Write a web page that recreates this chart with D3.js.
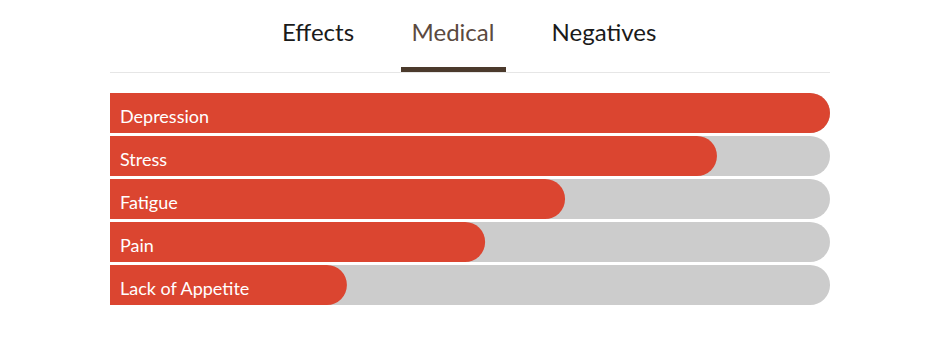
<!DOCTYPE html>
<html>
<head>
<meta charset="utf-8">
<script src="https://cdn.jsdelivr.net/npm/d3@7"></script>
<style>
  body { margin: 0; background: #fff; }
  svg { display: block; }
</style>
</head>
<body>
<div id="app"></div>
<script>
const tabs = ["Effects", "Medical", "Negatives"]
const activeTab = "Medical"
const conditions = ["Depression", "Stress", "Fatigue", "Pain", "Lack of Appetite"]
const percents = [100, 84.3, 63.2, 52.1, 32.9]

const width = 933
const height = 354
const left = 110
const right = 830

const svg = d3.select('#app').append('svg')
    .attr('width', width)
    .attr('height', height)

// tabs
const tabCenters = [318, 453, 604]
const tabG = svg.append('g')
tabG.selectAll('text')
    .data(tabs)
    .enter().append('text')
    .attr('x', (d, i) => tabCenters[i])
    .attr('y', 40.5)
    .attr('text-anchor', 'middle')
    .style('font-family', 'Lato, "Open Sans", sans-serif')
    .style('font-size', '24px')
    .style('fill', d => d == activeTab ? '#5b4a40' : '#1a1a1a')
    .text(d => d)

svg.append('line')
    .attr('x1', left).attr('x2', right)
    .attr('y1', 72.5).attr('y2', 72.5)
    .attr('stroke', '#e6e6e6')
    .attr('stroke-width', 1)

svg.append('rect')
    .attr('x', 401).attr('y', 67)
    .attr('width', 105).attr('height', 5)
    .attr('fill', '#4b3a2c')

// bars
const xScale = d3.scaleLinear().domain([0, 100]).range([0, right - left])
const yScale = d3.scaleBand().domain(conditions).range([93, 305]).paddingInner(0.07)
const bh = yScale.bandwidth()

// square on the left, round on the right
function pill(x0, y0, w, h) {
    const r = h / 2
    const p = d3.path()
    p.moveTo(x0, y0)
    p.lineTo(x0 + w - r, y0)
    p.arc(x0 + w - r, y0 + r, r, -Math.PI / 2, Math.PI / 2)
    p.lineTo(x0, y0 + h)
    p.closePath()
    return p.toString()
}

const data = conditions.map((c, i) => ({ name: c, value: percents[i] }))

svg.selectAll('path.track')
    .data(data)
    .enter().append('path')
    .attr('class', 'track')
    .attr('d', d => pill(left, yScale(d.name), xScale(100), bh))
    .attr('fill', '#cccccc')

svg.selectAll('path.bar')
    .data(data)
    .enter().append('path')
    .attr('class', 'bar')
    .attr('d', d => pill(left, yScale(d.name), xScale(d.value), bh))
    .attr('fill', '#db4530')

svg.selectAll('text.label')
    .data(data)
    .enter().append('text')
    .attr('class', 'label')
    .attr('x', left + 10)
    .attr('y', d => yScale(d.name) + 30)
    .style('font-family', 'Lato, "Open Sans", sans-serif')
    .style('font-size', '18px')
    .style('fill', '#fff')
    .text(d => d.name)
</script>
</body>
</html>
